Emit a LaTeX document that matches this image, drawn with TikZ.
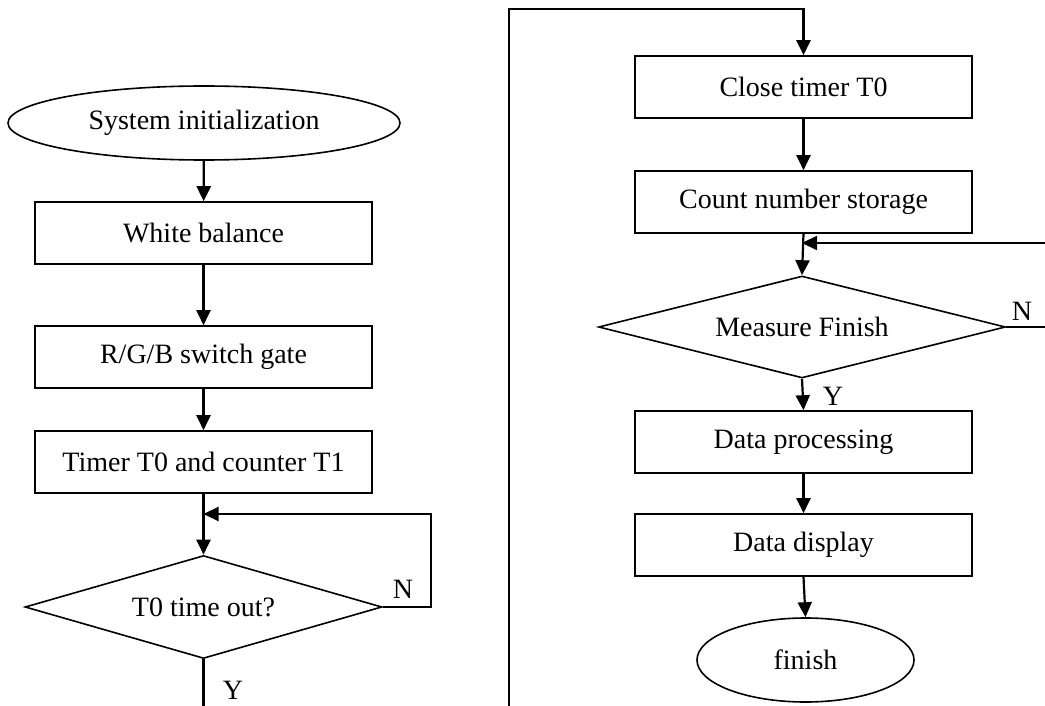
\documentclass[tikz,border=0pt]{standalone}
\usepackage{fontspec}
\setmainfont{Liberation Serif}
\usetikzlibrary{arrows.meta,shapes.geometric}

\begin{document}
\begin{tikzpicture}[x=0.5pt,y=-0.5pt,font=\fontsize{14}{16}\selectfont,
        >={Triangle[width=7pt,length=7.5pt]},
        box/.style={draw,line width=0.8pt,minimum width=168.5pt,minimum height=31pt,inner sep=0pt},
        term/.style={draw,ellipse,line width=0.8pt,inner sep=0pt},
        test/.style={draw,diamond,aspect=3.5,line width=0.8pt,inner sep=0pt},
        flow/.style={->,line width=1.1pt}]
  \useasboundingbox (0,0) rectangle (1045,706);
  % left column
  \node[term,minimum width=196pt,minimum height=37pt](init) at (204,123){System initialization};
  \node[box](white) at (203.5,233){White balance};
  \node[box](rgb) at (203.5,357){R/G/B switch gate};
  \node[box](timer) at (203.5,462){Timer T0 and counter T1};
  \node[test,minimum width=178.5pt,minimum height=51.5pt](tout) at (203.5,607){T0 time out?};
  \node(ln) at (403,589){N};
  \node(ly) at (233,690){Y};
  % right column
  \node[box](close) at (803.5,87){Close timer T0};
  \node[box](count) at (803.5,202){Count number storage};
  \node[test,minimum width=203.5pt,minimum height=51pt](meas) at (802,327){Measure Finish};
  \node(rn) at (1022,311){N};
  \node(ry) at (833,396){Y};
  \node[box](proc) at (803.5,442){Data processing};
  \node[box](disp) at (803.5,545){Data display};
  \node[term,minimum width=108.5pt,minimum height=42pt](fin) at (805.5,660){finish};
  % bends of the return lines
  \coordinate(lc) at (431,514);
  \coordinate(lj) at (203.5,514);
  \coordinate(rc) at (1050,243);
  \coordinate(rj) at (802,243);
  \coordinate(b1) at (509,730);
  \coordinate(t1) at (509,9);
  \draw[flow](init)--(white);
  \draw[flow](white)--(rgb);
  \draw[flow](rgb)--(timer);
  \draw[flow](timer)--(tout);
  \draw[flow](tout.east)-|(lc)--(lj);
  \draw[flow](tout.south)|-(b1)--(t1)-|(close.north);
  \draw[flow](close)--(count);
  \draw[flow](count.south)--(meas.north);
  \draw[flow](meas.east)-|(rc)--(rj);
  \draw[flow](meas.south)--(proc.north);
  \draw[flow](proc)--(disp);
  \draw[flow](disp.south)--(fin.north);
\end{tikzpicture}
\end{document}
